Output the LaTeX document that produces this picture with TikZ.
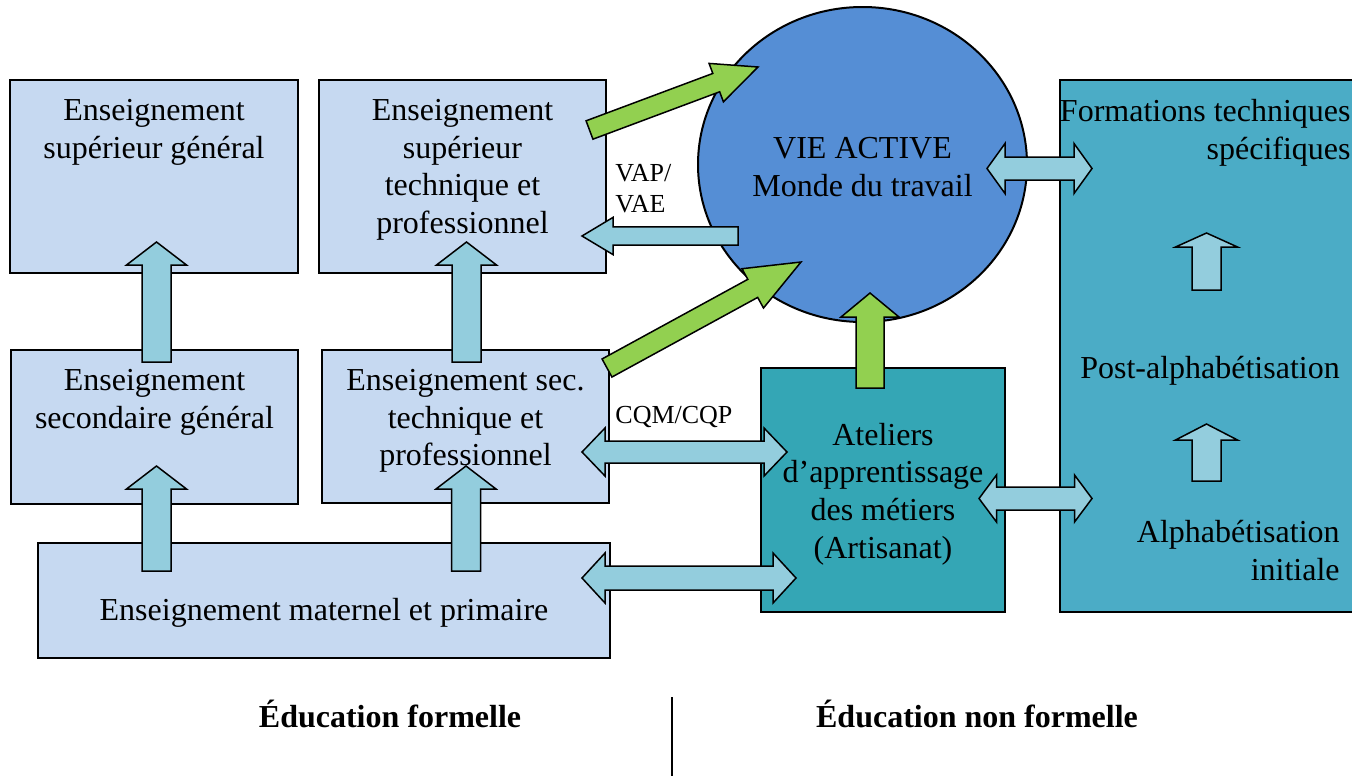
\documentclass[tikz,border=0pt]{standalone}
\usepackage{fontspec}
\setmainfont{Liberation Serif}
\usetikzlibrary{calc,positioning,shapes.geometric}

\definecolor{boxblue}{HTML}{C6D9F1}
\definecolor{arrblue}{HTML}{93CDDD}
\definecolor{arrgreen}{HTML}{92D050}
\definecolor{vieblue}{HTML}{558ED5}
\definecolor{atelteal}{HTML}{34A6B5}
\definecolor{alphateal}{HTML}{4BACC6}

\tikzset{
	box/.style={draw=black, line width=1pt, fill=boxblue, inner sep=0pt},
	txt/.style={font=\fontsize{16pt}{18.8pt}\selectfont, align=center, inner sep=0pt},
	smalltxt/.style={font=\fontsize{13pt}{15.5pt}\selectfont, align=left, inner sep=0pt},
	bluearrow/.style={draw=black, line width=0.75pt, fill=arrblue},
	greenarrow/.style={draw=black, line width=0.75pt, fill=arrgreen}
}

% block arrow: style, tail, tip, shaft half width, head half width, head length
\newcommand{\blockarrow}[6]{
	\coordinate (hb) at ($(#3)!#6!(#2)$);
	\draw[#1] ($(#2)!#4!90:(#3)$) -- ($(hb)!#4!90:(#3)$) -- ($(hb)!#5!90:(#3)$) -- (#3)
		-- ($(hb)!#5!-90:(#3)$) -- ($(hb)!#4!-90:(#3)$) -- ($(#2)!#4!-90:(#3)$) -- cycle;
}
% double block arrow: style, end a, end b, shaft half width, head half width, head length
\newcommand{\dblarrow}[6]{
	\coordinate (ha) at ($(#2)!#6!(#3)$);
	\coordinate (hb) at ($(#3)!#6!(#2)$);
	\draw[#1] (#2) -- ($(ha)!#5!90:(#3)$) -- ($(ha)!#4!90:(#3)$) -- ($(hb)!#4!90:(#3)$)
		-- ($(hb)!#5!90:(#3)$) -- (#3) -- ($(hb)!#5!-90:(#3)$) -- ($(hb)!#4!-90:(#3)$)
		-- ($(ha)!#4!-90:(#3)$) -- ($(ha)!#5!-90:(#3)$) -- cycle;
}

\begin{document}
\begin{tikzpicture}[x=0.5pt, y=-0.5pt]
	\useasboundingbox (0,0) rectangle (1352,776);
	\clip (0,0) rectangle (1352,776);

	% formal education
	\node[box, minimum width=144pt, minimum height=96.5pt] (supgen) at (154,176.5) {};
	\node[box, minimum width=143.5pt, minimum height=96.5pt] (suptech) at (462.5,176.5) {};
	\node[box, minimum width=143.5pt, minimum height=77pt] (secgen) at (154.5,427) {};
	\node[box, minimum width=143.5pt, minimum height=76.5pt] (sectech) at (465.5,426.5) {};
	\node[box, minimum width=286pt, minimum height=57.5pt] (primaire) at (324,600.5) {};

	\node[txt, below=10pt of supgen.north] (supgen-t) {Enseignement\\supérieur général};
	\node[txt, below=10pt of suptech.north] (suptech-t) {Enseignement\\supérieur\\technique et\\professionnel};
	\node[txt, below=10pt of secgen.north] (secgen-t) {Enseignement\\secondaire général};
	\node[txt, below=10pt of sectech.north] (sectech-t) {Enseignement sec.\\technique et\\professionnel};
	\node[txt, anchor=base] (primaire-t) at (324,620) {Enseignement maternel et primaire};

	% working life and non formal education
	\node[ellipse, draw=black, line width=1pt, fill=vieblue, minimum width=164.5pt,
		minimum height=157.5pt, inner sep=0pt] (vie) at (862.5,164.5) {};
	\node[txt] (vie-t) at (862.5,167) {VIE ACTIVE\\Monde du travail};
	\node[box, fill=atelteal, minimum width=122pt, minimum height=122pt] (ateliers) at (883,490) {};
	\node[txt] (ateliers-t) at (883,494) {Ateliers\\d’apprentissage\\des métiers\\(Artisanat)};
	\node[box, fill=alphateal, minimum width=160pt, minimum height=266pt] (alpha) at (1220,346) {};

	\node[txt, align=right, anchor=north east] (ftech) at (1351,99) {Formations techniques\\spécifiques};
	\node[txt, anchor=base] (post) at (1210,378) {Post-alphabétisation};
	\node[txt, align=right, anchor=north east] (alphinit) at (1340,520) {Alphabétisation\\initiale};

	\node[smalltxt, anchor=north west] (vap) at (615,164) {VAP/\\VAE};
	\node[smalltxt, anchor=base west] (cqm) at (615,423) {CQM/CQP};

	% arrow ends
	\coordinate (u1a) at (156.5,362);  \coordinate (u1b) at (156.5,242);
	\coordinate (u2a) at (466.5,362);  \coordinate (u2b) at (466.5,242);
	\coordinate (u3a) at (156.5,571);  \coordinate (u3b) at (156.5,466);
	\coordinate (u4a) at (466,571);    \coordinate (u4b) at (466,466);
	\coordinate (g1a) at (589.5,130);  \coordinate (g1b) at (758,67);
	\coordinate (g2a) at (607,368);    \coordinate (g2b) at (801,262);
	\coordinate (g3a) at (870,388);    \coordinate (g3b) at (870,293);
	\coordinate (vapa) at (738,236);   \coordinate (vapb) at (582,236);
	\coordinate (d1a) at (987,168.5);  \coordinate (d1b) at (1092,168.5);
	\coordinate (d2a) at (582,452);    \coordinate (d2b) at (787,452);
	\coordinate (d3a) at (582,578);    \coordinate (d3b) at (796,578);
	\coordinate (d4a) at (979,498.5);  \coordinate (d4b) at (1092,498.5);
	\coordinate (s1a) at (1206.5,290); \coordinate (s1b) at (1206.5,233);
	\coordinate (s2a) at (1206.5,481); \coordinate (s2b) at (1206.5,424);

	\foreach \n in {1,2,3,4}
		\blockarrow{bluearrow}{u\n a}{u\n b}{7.25pt}{15pt}{11.5pt};
	\blockarrow{greenarrow}{g1a}{g1b}{4.9pt}{10.25pt}{22.3pt};
	\blockarrow{greenarrow}{g2a}{g2b}{5.15pt}{11.2pt}{27.5pt};
	\blockarrow{greenarrow}{g3a}{g3b}{7pt}{14.5pt}{12pt};
	\blockarrow{bluearrow}{vapa}{vapb}{4.6pt}{9.3pt}{15.5pt};
	\dblarrow{bluearrow}{d1a}{d1b}{5.75pt}{12.5pt}{9pt};
	\dblarrow{bluearrow}{d2a}{d2b}{5.5pt}{12pt}{11.5pt};
	\dblarrow{bluearrow}{d3a}{d3b}{6pt}{12.5pt}{11.5pt};
	\dblarrow{bluearrow}{d4a}{d4b}{5.75pt}{11.75pt}{8.75pt};
	\blockarrow{bluearrow}{s1a}{s1b}{7.25pt}{15.5pt}{7pt};
	\blockarrow{bluearrow}{s2a}{s2b}{7.25pt}{15.5pt}{8pt};

	% bottom labels
	\node[txt, font=\fontsize{16pt}{18.8pt}\selectfont\bfseries, anchor=base] (formel) at (390,727) {Éducation formelle};
	\node[txt, font=\fontsize{16pt}{18.8pt}\selectfont\bfseries, anchor=base] (nonformel) at (977,727) {Éducation non formelle};
	\coordinate (divtop) at (672,697);
	\coordinate (divbot) at (672,776);
	\draw[line width=1pt] (divtop) -- (divbot);
\end{tikzpicture}
\end{document}
